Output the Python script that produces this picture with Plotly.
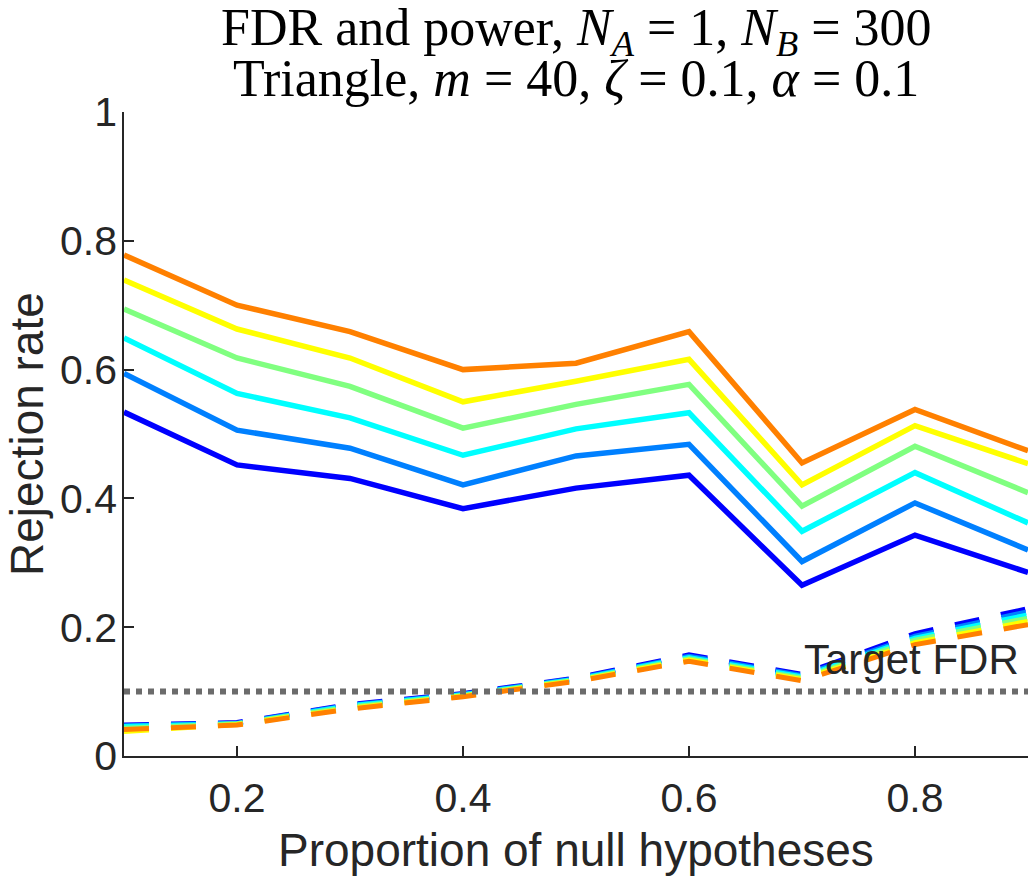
import plotly.graph_objects as go

# ---- data ----
x_prop = [0.1, 0.2, 0.3, 0.4, 0.5, 0.6, 0.7, 0.8, 0.9]

series_colors = ["#0000FF", "#0080FF", "#00FFFF", "#80FF80", "#FFFF00", "#FF8000"]

power_blue   = [0.534, 0.452, 0.431, 0.384, 0.416, 0.436, 0.265, 0.343, 0.285]
power_mblue  = [0.594, 0.506, 0.478, 0.421, 0.466, 0.484, 0.302, 0.393, 0.320]
power_cyan   = [0.649, 0.563, 0.525, 0.467, 0.508, 0.533, 0.349, 0.440, 0.362]
power_green  = [0.694, 0.618, 0.574, 0.509, 0.546, 0.577, 0.388, 0.481, 0.409]
power_yellow = [0.739, 0.663, 0.618, 0.550, 0.582, 0.616, 0.421, 0.513, 0.454]
power_orange = [0.778, 0.700, 0.659, 0.600, 0.610, 0.659, 0.455, 0.538, 0.474]

fdr_blue   = [0.048, 0.052, 0.080, 0.097, 0.121, 0.157, 0.127, 0.190, 0.229]
fdr_mblue  = [0.047, 0.051, 0.079, 0.096, 0.120, 0.155, 0.125, 0.186, 0.224]
fdr_cyan   = [0.046, 0.050, 0.078, 0.095, 0.119, 0.153, 0.123, 0.183, 0.219]
fdr_green  = [0.043, 0.050, 0.076, 0.094, 0.118, 0.151, 0.121, 0.180, 0.214]
fdr_yellow = [0.038, 0.049, 0.074, 0.093, 0.117, 0.149, 0.119, 0.176, 0.209]
fdr_orange = [0.041, 0.048, 0.073, 0.092, 0.116, 0.147, 0.117, 0.173, 0.204]

target_fdr = 0.1
target_label = "Target FDR"
target_label_pos = (0.7, 0.15)

x_ticks = [0.2, 0.4, 0.6, 0.8]
y_ticks = [0, 0.2, 0.4, 0.6, 0.8, 1]
y_tick_text = ["0", "0.2", "0.4", "0.6", "0.8", "1"]

title_line1 = "FDR and power, <i>N</i><sub><i>A</i></sub> = 1, <i>N</i><sub><i>B</i></sub> = 300"
title_line2 = "Triangle, <i>m</i> = 40, <i>ζ</i> = 0.1, <i>α</i> = 0.1"
x_title = "Proportion of null hypotheses"
y_title = "Rejection rate"

power_series = [power_blue, power_mblue, power_cyan, power_green, power_yellow, power_orange]
fdr_series = [fdr_blue, fdr_mblue, fdr_cyan, fdr_green, fdr_yellow, fdr_orange]

# ---- figure ----
W, H = 1034, 878
ML, MR, MT, MB = 124, 6, 112, 122
plot_h = H - MT - MB
plot_w = W - ML - MR


def py(pix):  # pixel row -> paper y
    return (H - MB - pix) / plot_h


def px(pix):  # pixel column -> paper x
    return (pix - ML) / plot_w


fig = go.Figure()
for vals, col in zip(power_series, series_colors):
    fig.add_trace(go.Scatter(x=x_prop, y=vals, mode="lines",
                             line=dict(color=col, width=5.5), showlegend=False))
for vals, col in zip(fdr_series, series_colors):
    fig.add_trace(go.Scatter(x=x_prop, y=vals, mode="lines",
                             line=dict(color=col, width=5, dash="25px,22px"),
                             showlegend=False))
fig.add_trace(go.Scatter(x=[x_prop[0], x_prop[-1]], y=[target_fdr, target_fdr], mode="lines",
                         line=dict(color="#6b6b6b", width=6, dash="dot"), showlegend=False))

axis_col = "#262626"
title_font = dict(family="Liberation Serif, serif", size=52, color="black")
fig.update_layout(
    width=W, height=H,
    margin=dict(l=ML, r=MR, t=MT, b=MB),
    paper_bgcolor="white", plot_bgcolor="white",
    font=dict(family="Liberation Sans, Arial, sans-serif", color=axis_col),
    xaxis=dict(range=[0.1, 0.9], tickvals=x_ticks, ticktext=[str(v) for v in x_ticks],
               showline=True, linecolor=axis_col, linewidth=1.5, mirror=False,
               ticks="inside", ticklen=10, tickwidth=1.5, tickcolor=axis_col,
               showgrid=False, zeroline=False, automargin=False,
               ticklabelstandoff=5,
               tickfont=dict(size=41, color=axis_col)),
    yaxis=dict(range=[0, 1], tickvals=y_ticks, ticktext=y_tick_text,
               showline=True, linecolor=axis_col, linewidth=1.5, mirror=False,
               ticks="inside", ticklen=10, tickwidth=1.5, tickcolor=axis_col,
               showgrid=False, zeroline=False, automargin=False,
               ticklabelstandoff=-3,
               tickfont=dict(size=41, color=axis_col)),
    annotations=[
        dict(text=target_label, x=target_label_pos[0], y=target_label_pos[1],
             xref="x", yref="y", xanchor="left", yanchor="middle", showarrow=False,
             font=dict(size=42, color=axis_col)),
        dict(text=title_line1, x=0.5, y=py(32), xref="paper", yref="paper",
             xanchor="center", yanchor="middle", showarrow=False, font=title_font),
        dict(text=title_line2, x=0.5, y=py(79), xref="paper", yref="paper",
             xanchor="center", yanchor="middle", showarrow=False, font=title_font),
        dict(text=x_title, x=0.5, y=py(850), xref="paper", yref="paper",
             xanchor="center", yanchor="middle", showarrow=False,
             font=dict(size=46, color=axis_col)),
        dict(text=y_title, x=px(27), y=0.5, xref="paper", yref="paper", textangle=-90,
             xanchor="center", yanchor="middle", showarrow=False,
             font=dict(size=46, color=axis_col)),
    ],
)
fig.write_html("out.html", config={"displayModeBar": False},
               post_script="document.body.style.margin='0';")
